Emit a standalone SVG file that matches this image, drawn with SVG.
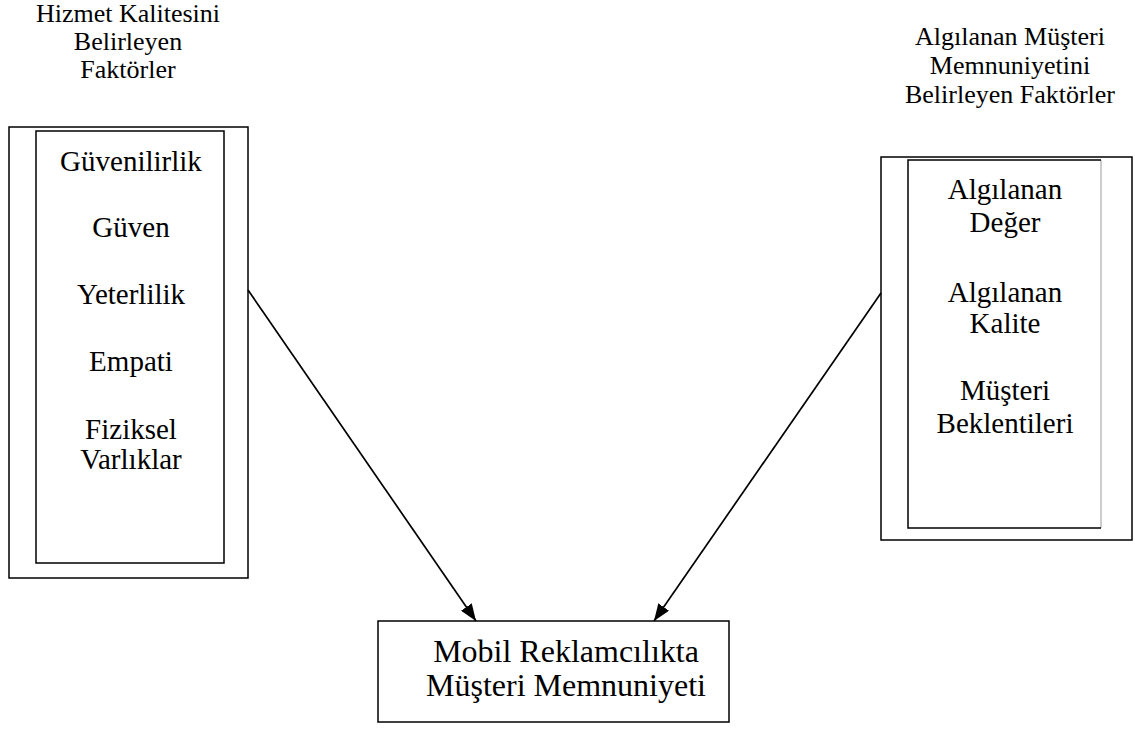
<svg xmlns="http://www.w3.org/2000/svg" width="1135" height="733" viewBox="0 0 1135 733">
<style>
text{font-family:"Liberation Serif","Times New Roman",serif;fill:#000;text-anchor:middle}
.t{font-size:26px}
.i{font-size:29px}
.b{font-size:32px}
.box{fill:#fff;stroke:#000;stroke-width:1.5}
.edge{stroke:#000;stroke-width:1.7;fill:none}
</style>
<defs>
<marker id="ah" viewBox="0 0 17 13" refX="17" refY="6.5" markerWidth="17" markerHeight="13" markerUnits="userSpaceOnUse" orient="auto">
<path d="M0,0 L17,6.5 L0,13 z" fill="#000"/>
</marker>
</defs>
<rect width="1135" height="733" fill="#fff"/>
<g id="title-left">
<text class="t" x="128" y="22">Hizmet Kalitesini</text>
<text class="t" x="128" y="50">Belirleyen</text>
<text class="t" x="128" y="78">Faktörler</text>
</g>
<g id="title-right">
<text class="t" x="1010" y="45">Algılanan Müşteri</text>
<text class="t" x="1010" y="74">Memnuniyetini</text>
<text class="t" x="1010" y="103">Belirleyen Faktörler</text>
</g>
<g id="node-left">
<rect class="box" x="9" y="127" width="239" height="451"/>
<rect x="36" y="131" width="188" height="432" fill="none" stroke="#000" stroke-width="1.5"/>
<text class="i" x="131" y="171">Güvenilirlik</text>
<text class="i" x="131" y="237">Güven</text>
<text class="i" x="131" y="304">Yeterlilik</text>
<text class="i" x="131" y="371">Empati</text>
<text class="i" x="131" y="439">Fiziksel</text>
<text class="i" x="131" y="469">Varlıklar</text>
</g>
<g id="node-right">
<rect class="box" x="881" y="157" width="251" height="383"/>
<line x1="1101" y1="160" x2="1101" y2="528" stroke="#999" stroke-width="1"/>
<path d="M1101,160 H908 V528 H1101" fill="none" stroke="#000" stroke-width="1.5"/>
<text class="i" x="1005" y="199">Algılanan</text>
<text class="i" x="1005" y="232">Değer</text>
<text class="i" x="1005" y="302">Algılanan</text>
<text class="i" x="1005" y="333">Kalite</text>
<text class="i" x="1005" y="400">Müşteri</text>
<text class="i" x="1005" y="433">Beklentileri</text>
</g>
<g id="node-bottom">
<rect class="box" x="378" y="621" width="351" height="101"/>
<text class="b" x="566" y="662">Mobil Reklamcılıkta</text>
<text class="b" x="566" y="696">Müşteri Memnuniyeti</text>
</g>
<g id="connectors">
<line class="edge" x1="248" y1="290" x2="476" y2="621" marker-end="url(#ah)"/>
<line class="edge" x1="881" y1="293" x2="654" y2="621" marker-end="url(#ah)"/>
</g>
</svg>
